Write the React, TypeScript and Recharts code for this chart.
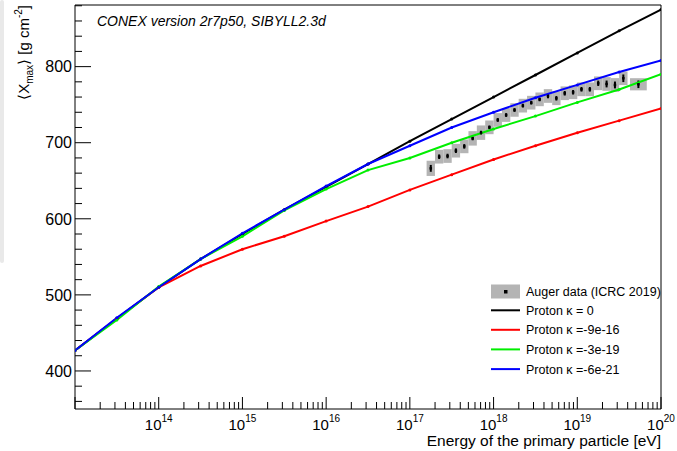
import React from "react";
import {
  ComposedChart,
  Line,
  Scatter,
  XAxis,
  YAxis,
  ReferenceArea,
  ErrorBar,
} from "recharts";

// ---------- data ----------
// simulation grid: log10(E/eV)
const curveLogE = [13, 13.5, 14, 14.5, 15, 15.5, 16, 16.5, 17, 17.5, 18, 18.5, 19, 19.5, 20];
const protonK0 = [427, 469, 510, 547, 580, 612, 642, 672, 702, 731, 760, 789, 818, 847, 875];
const protonK9e16 = [427, 469, 510, 538, 560, 577, 597, 616, 638, 658, 678, 696, 713, 729, 745];
const protonK3e19 = [427, 467, 511, 547, 577, 611, 639, 664, 680, 700, 718, 735, 753, 770, 790];
const protonK6e21 = [427, 470, 510, 547, 581, 612, 643, 672, 696, 720, 740, 759, 776, 793, 808];

// Auger data (ICRC 2019)
const augerLogE = [
  17.25, 17.35, 17.45, 17.55, 17.65, 17.75, 17.85, 17.95, 18.05, 18.15, 18.25, 18.35,
  18.45, 18.55, 18.65, 18.75, 18.85, 18.95, 19.05, 19.15, 19.25, 19.35, 19.45, 19.55, 19.73,
];
const augerXmax = [
  666.3, 681.6, 682.5, 689.5, 695.2, 705.7, 713.2, 720.2, 729.9, 736.4, 743.0, 748.7,
  752.6, 757.0, 761.4, 758.4, 765.0, 766.3, 770.2, 770.2, 778.1, 777.2, 775.9, 784.7, 776.8,
];
const augerStat = [
  4.5, 3, 3, 3, 3, 2.5, 2.5, 2.5, 2.5, 2.5, 2.5, 2.5,
  2.5, 2.5, 3, 3, 3, 3, 3, 3, 3.5, 4.5, 4.5, 5, 5,
];
const augerSys = [
  10, 9, 9, 9, 9, 9.5, 9.5, 9, 9, 9, 9, 9,
  9, 9, 9, 9, 9, 9, 9, 9, 9, 9, 9, 9, 8,
];
const augerBinHalf = [
  0.05, 0.05, 0.05, 0.05, 0.05, 0.05, 0.05, 0.05, 0.05, 0.05, 0.05, 0.05,
  0.05, 0.05, 0.05, 0.05, 0.05, 0.05, 0.05, 0.05, 0.05, 0.05, 0.05, 0.05, 0.1,
];

// axis ticks
const xMajorExponents = [13, 14, 15, 16, 17, 18, 19, 20];
const xMinorMultipliers = [2, 3, 4, 5, 6, 7, 8, 9];
const yMajorTicks = [400, 500, 600, 700, 800];
const yAllTicks = [360, 380, 400, 420, 440, 460, 480, 500, 520, 540, 560, 580, 600, 620, 640, 660, 680, 700, 720, 740, 760, 780, 800, 820, 840, 860, 880];

const legendLabels = [
  "Auger data (ICRC 2019)",
  "Proton \u03ba = 0",
  "Proton \u03ba =-9e-16",
  "Proton \u03ba =-3e-19",
  "Proton \u03ba =-6e-21",
];
const seriesColors = ["#000000", "#ff0000", "#00ee00", "#0000ff"];

// ---------- derived tables ----------
const curveTable = curveLogE.map((l, i) => ({
  E: Math.pow(10, l),
  k0: protonK0[i],
  k9e16: protonK9e16[i],
  k3e19: protonK3e19[i],
  k6e21: protonK6e21[i],
}));

const augerTable = augerLogE.map((l, i) => ({
  E: Math.pow(10, l),
  v: augerXmax[i],
  err: augerStat[i],
}));

const xTicks: number[] = [];
xMajorExponents.forEach((d, i) => {
  xTicks.push(Math.pow(10, d));
  if (i < xMajorExponents.length - 1) {
    xMinorMultipliers.forEach((m) => xTicks.push(m * Math.pow(10, d)));
  }
});

const X_MIN = 1e13;
const X_MAX = 1e20;
const Y_MIN = 350;
const Y_MAX = 881;

const FONT = '"Liberation Sans", Arial, Helvetica, sans-serif';

function XTick(props: any) {
  const { x, y, payload } = props;
  const v = payload.value as number;
  const lg = Math.log10(v);
  const e = Math.round(lg);
  const major = Math.abs(lg - e) < 1e-9;
  return (
    <g>
      <line x1={x} x2={x} y1={y} y2={y - (major ? 12 : 7)} stroke="#000" strokeWidth={1} />
      {major && e > 13 && (
        <text x={x} y={y + 21} textAnchor="middle" fontFamily={FONT} fontSize={15} fill="#000">
          10
          <tspan dy={-8} fontSize={10}>
            {e}
          </tspan>
        </text>
      )}
    </g>
  );
}

function YTick(props: any) {
  const { x, y, payload } = props;
  const v = payload.value as number;
  const major = yMajorTicks.includes(v);
  return (
    <g>
      <line x1={x} x2={x + (major ? 16 : 7)} y1={y} y2={y} stroke="#000" strokeWidth={1} />
      {major && (
        <text x={x - 3} y={y} dy="0.36em" textAnchor="end" fontFamily={FONT} fontSize={16} fill="#000">
          {v}
        </text>
      )}
    </g>
  );
}

const AugerMarker = (props: any) => {
  const { cx, cy } = props;
  if (cx == null || cy == null) return null;
  return <rect x={cx - 1.25} y={cy - 1.25} width={2.5} height={2.5} fill="#000" />;
};

export default function App() {
  const legendY = [291.7, 310.3, 329.8, 349.4, 369.1];
  return (
    <div style={{ position: "absolute", left: 0, top: 0, width: 677, height: 451, background: "#fff" }}>
      <ComposedChart
        width={677}
        height={451}
        margin={{ top: 5, right: 16, bottom: 0, left: 0 }}
        style={{ fontFamily: FONT }}
      >
        <XAxis
          dataKey="E"
          type="number"
          scale="log"
          domain={[X_MIN, X_MAX]}
          allowDataOverflow
          ticks={xTicks}
          interval={0}
          height={42}
          tickSize={0}
          tickMargin={0}
          axisLine={false}
          tickLine={false}
          tick={(p: any) => <XTick {...p} />}
        />
        <YAxis
          type="number"
          domain={[Y_MIN, Y_MAX]}
          allowDataOverflow
          ticks={yAllTicks}
          interval={0}
          width={75}
          tickSize={0}
          tickMargin={0}
          axisLine={false}
          tickLine={false}
          tick={(p: any) => <YTick {...p} />}
        />
        {augerTable.map((d, i) => (
          <ReferenceArea
            key={"sys" + i}
            x1={Math.pow(10, augerLogE[i] - augerBinHalf[i])}
            x2={Math.pow(10, augerLogE[i] + augerBinHalf[i])}
            y1={d.v - augerSys[i]}
            y2={d.v + augerSys[i]}
            fill="#b4b4b4"
            fillOpacity={1}
            stroke="none"
            ifOverflow="visible"
          />
        ))}
        <Scatter
          data={augerTable}
          dataKey="v"
          isAnimationActive={false}
          shape={<AugerMarker />}
          fill="#000"
        >
          <ErrorBar dataKey="err" direction="y" width={0} stroke="#000" strokeWidth={2} />
        </Scatter>
        <Line
          data={curveTable}
          dataKey="k0"
          stroke={seriesColors[0]}
          strokeWidth={2}
          dot={{ r: 1.5, fill: seriesColors[0], stroke: seriesColors[0], strokeWidth: 0 }}
          isAnimationActive={false}
          type="linear"
        />
        <Line
          data={curveTable}
          dataKey="k9e16"
          stroke={seriesColors[1]}
          strokeWidth={2}
          dot={{ r: 1.5, fill: seriesColors[1], stroke: seriesColors[1], strokeWidth: 0 }}
          isAnimationActive={false}
          type="linear"
        />
        <Line
          data={curveTable}
          dataKey="k3e19"
          stroke={seriesColors[2]}
          strokeWidth={2}
          dot={{ r: 1.5, fill: seriesColors[2], stroke: seriesColors[2], strokeWidth: 0 }}
          isAnimationActive={false}
          type="linear"
        />
        <Line
          data={curveTable}
          dataKey="k6e21"
          stroke={seriesColors[3]}
          strokeWidth={2}
          dot={{ r: 1.5, fill: seriesColors[3], stroke: seriesColors[3], strokeWidth: 0 }}
          isAnimationActive={false}
          type="linear"
        />
        <ReferenceArea
          x1={X_MIN}
          x2={X_MAX}
          y1={Y_MIN}
          y2={Y_MAX}
          fill="none"
          fillOpacity={0}
          stroke="#000"
          strokeWidth={1}
          ifOverflow="visible"
        />
      </ComposedChart>
      <svg
        width={677}
        height={451}
        style={{ position: "absolute", left: 0, top: 0, pointerEvents: "none" }}
        fontFamily={FONT}
      >
        <rect x={0} y={0} width={4} height={263} rx={2} fill="#e9e9e9" />
        <text x={97} y={25.5} fontSize={14} fontStyle="italic" fill="#000">
          CONEX version 2r7p50, SIBYLL2.3d
        </text>
        <text x={661} y={445.5} fontSize={15.5} textAnchor="end" fill="#000">
          Energy of the primary particle [eV]
        </text>
        <g transform="translate(29, 5) rotate(-90)">
          <text x={0} y={0} fontSize={15} textAnchor="end" fill="#000">
            {"\u27e8X"}
            <tspan dy={4} fontSize={10}>max</tspan>
            <tspan dy={-4}>{"\u27e9 [g cm"}</tspan>
            <tspan dy={-7} fontSize={10}>-2</tspan>
            <tspan dy={7}>]</tspan>
          </text>
        </g>
        {/* legend */}
        <rect x={491} y={284.5} width={29} height={14} fill="#b4b4b4" />
        <rect x={504} y={290} width={3.5} height={3.5} fill="#000" />
        {legendLabels.slice(1).map((_, i) => (
          <line
            key={"ll" + i}
            x1={491}
            x2={520}
            y1={legendY[i + 1]}
            y2={legendY[i + 1]}
            stroke={seriesColors[i]}
            strokeWidth={2}
          />
        ))}
        {legendLabels.map((t, i) => (
          <text key={"lt" + i} x={526} y={legendY[i]} dy="0.36em" fontSize={12.5} fill="#000">
            {t}
          </text>
        ))}
      </svg>
    </div>
  );
}
